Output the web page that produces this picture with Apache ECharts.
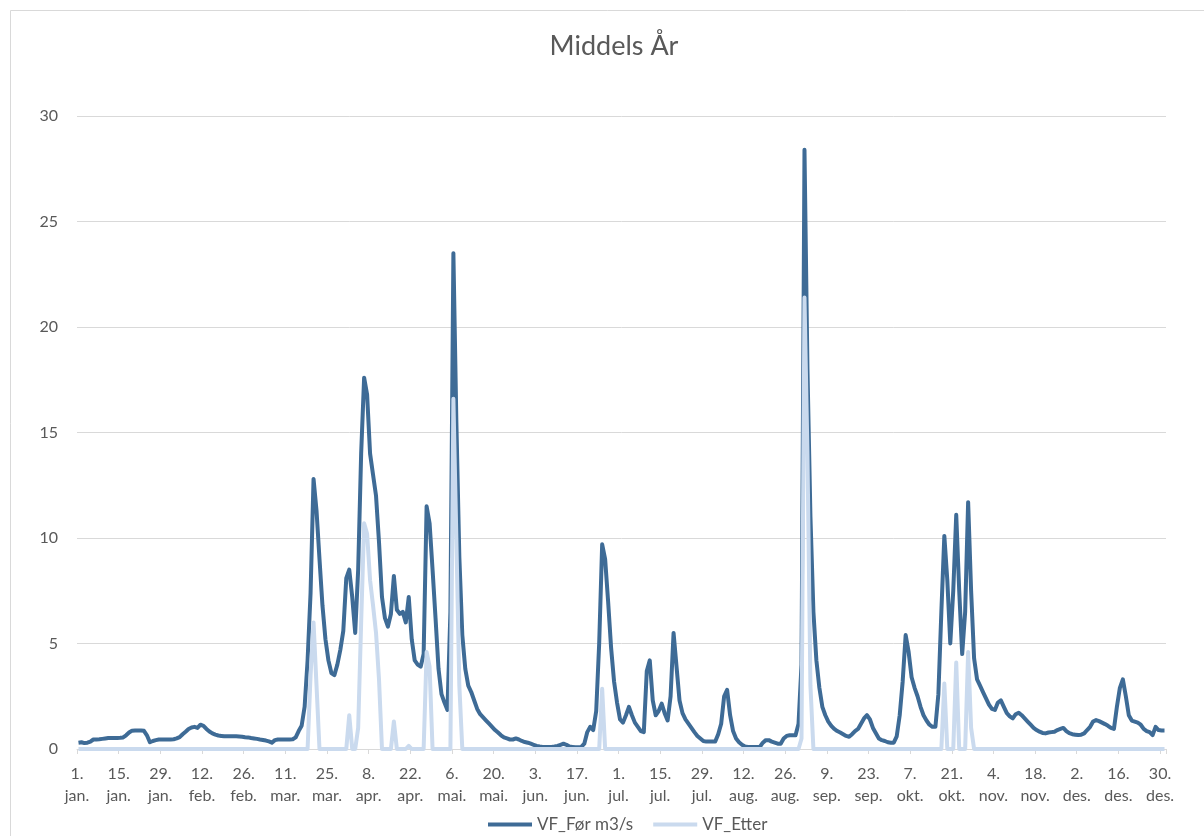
<!DOCTYPE html>
<html>
<head>
<meta charset="utf-8">
<title>Middels År</title>
<script src="https://cdn.jsdelivr.net/npm/echarts@6/dist/echarts.min.js"></script>
<style>
  html, body { margin: 0; padding: 0; background: #ffffff; }
  #chart { width: 1204px; height: 836px; }
</style>
</head>
<body>
<div id="chart"></div>
<script>
// Norwegian month abbreviations and day counts (leap year)
const monthNames = ['jan.', 'feb.', 'mar.', 'apr.', 'mai.', 'jun.', 'jul.', 'aug.', 'sep.', 'okt.', 'nov.', 'des.'];
const monthDays = [31, 29, 31, 30, 31, 30, 31, 31, 30, 31, 30, 31];

// One category per day: "1.\njan." ... "31.\ndes."
const categories = [];
monthNames.forEach(function (m, i) {
  for (let d = 1; d <= monthDays[i]; d++) categories.push(d + '.\n' + m);
});

const seriesNames = ['VF_Før m3/s', 'VF_Etter'];

// Mean daily flow before (m3/s), 1 Jan .. 31 Dec
const vfFor = [
  0.30, 0.32, 0.28, 0.30, 0.35, 0.45, 0.45, 0.46, 0.48, 0.50,
  0.52, 0.52, 0.52, 0.52, 0.53, 0.55, 0.65, 0.78, 0.87, 0.88,
  0.88, 0.88, 0.86, 0.65, 0.32, 0.38, 0.42, 0.45, 0.45, 0.45,
  0.45, 0.45, 0.46, 0.50, 0.56, 0.70, 0.82, 0.95, 1.02, 1.05,
  1.00, 1.15, 1.10, 0.95, 0.83, 0.74, 0.68, 0.64, 0.62, 0.60,
  0.60, 0.60, 0.60, 0.60, 0.59, 0.58, 0.56, 0.55, 0.52, 0.50,
  0.48, 0.45, 0.43, 0.40, 0.36, 0.30, 0.42, 0.45, 0.45, 0.45,
  0.45, 0.45, 0.46, 0.55, 0.85, 1.10, 2.00, 4.20, 7.40, 12.8,
  11.3, 9.0, 6.8, 5.2, 4.2, 3.6, 3.5, 4.0, 4.7, 5.6,
  8.1, 8.5, 7.2, 5.5, 8.5, 14.0, 17.6, 16.8, 14.0, 13.0,
  12.0, 9.8, 7.2, 6.2, 5.8, 6.4, 8.2, 6.6, 6.4, 6.5,
  6.0, 7.2, 5.2, 4.2, 4.0, 3.9, 4.5, 11.5, 10.7, 8.5,
  6.2, 3.8, 2.6, 2.2, 1.85, 6.5, 23.5, 15.5, 9.1, 5.4,
  3.8, 3.0, 2.7, 2.3, 1.9, 1.65, 1.5, 1.35, 1.2, 1.05,
  0.90, 0.78, 0.65, 0.55, 0.50, 0.45, 0.45, 0.50, 0.45, 0.38,
  0.33, 0.30, 0.25, 0.20, 0.15, 0.12, 0.10, 0.10, 0.10, 0.10,
  0.12, 0.15, 0.20, 0.25, 0.20, 0.12, 0.10, 0.08, 0.08, 0.10,
  0.25, 0.80, 1.05, 0.90, 1.80, 5.0, 9.7, 9.0, 7.0, 4.8,
  3.2, 2.2, 1.4, 1.25, 1.6, 2.0, 1.6, 1.25, 1.05, 0.85,
  0.80, 3.7, 4.2, 2.3, 1.6, 1.8, 2.15, 1.7, 1.35, 2.5,
  5.5, 3.9, 2.3, 1.7, 1.4, 1.2, 1.0, 0.80, 0.62, 0.50,
  0.38, 0.35, 0.35, 0.35, 0.35, 0.70, 1.2, 2.5, 2.8, 1.6,
  0.85, 0.50, 0.32, 0.20, 0.12, 0.10, 0.10, 0.10, 0.10, 0.10,
  0.30, 0.42, 0.42, 0.35, 0.30, 0.25, 0.25, 0.50, 0.62, 0.65,
  0.65, 0.65, 1.2, 4.0, 28.4, 18.0, 11.0, 6.5, 4.2, 2.9,
  2.0, 1.6, 1.3, 1.1, 0.95, 0.85, 0.78, 0.70, 0.62, 0.58,
  0.70, 0.85, 0.95, 1.2, 1.45, 1.6, 1.4, 1.0, 0.75, 0.50,
  0.42, 0.38, 0.32, 0.30, 0.30, 0.60, 1.6, 3.2, 5.4, 4.6,
  3.4, 2.9, 2.5, 2.0, 1.6, 1.35, 1.15, 1.05, 1.05, 2.6,
  6.5, 10.1, 8.0, 5.0, 7.5, 11.1, 7.5, 4.5, 6.5, 11.7,
  7.5, 4.3, 3.3, 3.0, 2.7, 2.4, 2.1, 1.9, 1.85, 2.2,
  2.3, 2.0, 1.7, 1.55, 1.45, 1.65, 1.72, 1.6, 1.45, 1.3,
  1.15, 1.0, 0.90, 0.82, 0.76, 0.74, 0.78, 0.80, 0.82, 0.90,
  0.95, 1.0, 0.85, 0.75, 0.70, 0.68, 0.66, 0.68, 0.74, 0.90,
  1.05, 1.3, 1.37, 1.32, 1.25, 1.18, 1.1, 1.0, 0.95, 2.0,
  2.9, 3.3, 2.5, 1.6, 1.35, 1.3, 1.25, 1.15, 0.95, 0.85,
  0.80, 0.66, 1.05, 0.90, 0.88, 0.88
];

// Mean daily flow after (m3/s), 1 Jan .. 31 Dec
const vfEtter = [
  0, 0, 0, 0, 0, 0, 0, 0, 0, 0,
  0, 0, 0, 0, 0, 0, 0, 0, 0, 0,
  0, 0, 0, 0, 0, 0, 0, 0, 0, 0,
  0, 0, 0, 0, 0, 0, 0, 0, 0, 0,
  0, 0, 0, 0, 0, 0, 0, 0, 0, 0,
  0, 0, 0, 0, 0, 0, 0, 0, 0, 0,
  0, 0, 0, 0, 0, 0, 0, 0, 0, 0,
  0, 0, 0, 0, 0, 0, 0, 0, 3.5, 6.0,
  3.0, 0, 0, 0, 0, 0, 0, 0, 0, 0,
  0, 1.6, 0, 0, 1.0, 6.0, 10.7, 10.2, 8.0, 6.8,
  5.5, 3.3, 0, 0, 0, 0, 1.3, 0, 0, 0,
  0, 0.15, 0, 0, 0, 0, 0, 4.6, 3.9, 0,
  0, 0, 0, 0, 0, 0, 16.6, 10.0, 3.0, 0,
  0, 0, 0, 0, 0, 0, 0, 0, 0, 0,
  0, 0, 0, 0, 0, 0, 0, 0, 0, 0,
  0, 0, 0, 0, 0, 0, 0, 0, 0, 0,
  0, 0, 0, 0, 0, 0, 0, 0, 0, 0,
  0, 0, 0, 0, 0, 0, 2.85, 0, 0, 0,
  0, 0, 0, 0, 0, 0, 0, 0, 0, 0,
  0, 0, 0, 0, 0, 0, 0, 0, 0, 0,
  0, 0, 0, 0, 0, 0, 0, 0, 0, 0,
  0, 0, 0, 0, 0, 0, 0, 0, 0, 0,
  0, 0, 0, 0, 0, 0, 0, 0, 0, 0,
  0, 0, 0, 0, 0, 0, 0, 0, 0, 0,
  0, 0, 0, 0.5, 21.4, 14.0, 3.0, 0, 0, 0,
  0, 0, 0, 0, 0, 0, 0, 0, 0, 0,
  0, 0, 0, 0, 0, 0, 0, 0, 0, 0,
  0, 0, 0, 0, 0, 0, 0, 0, 0, 0,
  0, 0, 0, 0, 0, 0, 0, 0, 0, 0,
  0, 3.1, 0, 0, 0, 4.1, 0, 0, 0, 4.6,
  1.0, 0, 0, 0, 0, 0, 0, 0, 0, 0,
  0, 0, 0, 0, 0, 0, 0, 0, 0, 0,
  0, 0, 0, 0, 0, 0, 0, 0, 0, 0,
  0, 0, 0, 0, 0, 0, 0, 0, 0, 0,
  0, 0, 0, 0, 0, 0, 0, 0, 0, 0,
  0, 0, 0, 0, 0, 0, 0, 0, 0, 0,
  0, 0, 0, 0, 0, 0
];

const yTicks = { min: 0, max: 30, step: 5 };
const labelEvery = 14; // one date label every 14 days

const textColor = '#595959';
const gridColor = '#D9D9D9';
const fontFamily = 'Lato, "Noto Sans", sans-serif';

function everyFortnight(index) { return index % labelEvery === 0; }

const chart = echarts.init(document.getElementById('chart'), null, { renderer: 'canvas' });

chart.setOption({
  animation: false,
  backgroundColor: '#ffffff',
  graphic: [{
    type: 'rect',
    shape: { x: 10.5, y: 10.5, width: 1200, height: 830 },
    style: { fill: 'none', stroke: gridColor, lineWidth: 1 },
    silent: true,
    z: -1
  }],
  title: {
    text: 'Middels År',
    left: 609,
    top: 28,
    textAlign: 'center',
    textStyle: { color: textColor, fontSize: 27, fontWeight: 'normal', fontFamily: fontFamily }
  },
  legend: {
    data: seriesNames,
    top: 811,
    left: 483,
    icon: 'rect',
    itemWidth: 44,
    itemHeight: 4,
    itemGap: 20,
    textStyle: { color: textColor, fontSize: 17, fontFamily: fontFamily }
  },
  grid: { left: 77, right: 38, top: 116, bottom: 87, containLabel: false },
  xAxis: {
    type: 'category',
    data: categories,
    boundaryGap: true,
    axisLine: { lineStyle: { color: gridColor, width: 1 } },
    axisTick: { show: true, interval: everyFortnight, length: 5, lineStyle: { color: gridColor } },
    axisLabel: {
      interval: everyFortnight,
      color: textColor,
      fontSize: 16,
      lineHeight: 22,
      margin: 14,
      padding: [0, 3, 0, 0],
      fontFamily: fontFamily
    },
    splitLine: { show: false }
  },
  yAxis: {
    type: 'value',
    min: yTicks.min,
    max: yTicks.max,
    interval: yTicks.step,
    axisLine: { show: false },
    axisTick: { show: false },
    axisLabel: { color: textColor, fontSize: 16, margin: 19, fontFamily: fontFamily },
    splitLine: { lineStyle: { color: gridColor, width: 1 } }
  },
  series: [
    {
      name: seriesNames[0],
      type: 'line',
      data: vfFor,
      showSymbol: false,
      symbol: 'none',
      color: '#3E6B96',
      lineStyle: { width: 4, color: '#3E6B96', join: 'round' }
    },
    {
      name: seriesNames[1],
      type: 'line',
      data: vfEtter,
      showSymbol: false,
      symbol: 'none',
      color: '#CADAEE',
      lineStyle: { width: 4, color: '#CADAEE', join: 'round' }
    }
  ]
});
</script>
</body>
</html>
